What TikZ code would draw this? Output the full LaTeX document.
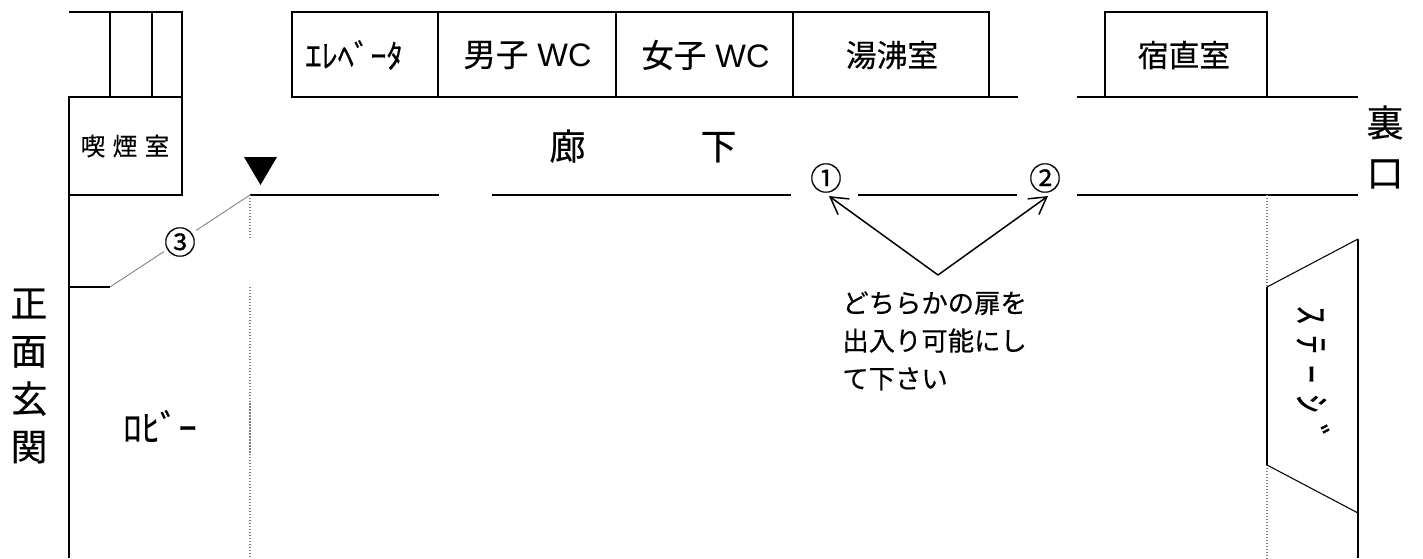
\documentclass[tikz,border=0pt]{standalone}
\usepackage{fontspec}
\setmainfont{Liberation Sans}
\newfontfamily\cjk[FakeBold=0.4]{Noto Sans CJK JP}
\newfontfamily\cjkwide[LetterSpace=30,FakeBold=0.4]{Noto Sans CJK JP}
\usetikzlibrary{arrows.meta}
\tikzset{
  wall/.style={black,line width=1.2pt},
  thinwall/.style={black,line width=0.6pt},
  dooropen/.style={gray,line width=0.5pt},
  guide/.style={gray,densely dotted,line width=0.7pt},
  pointer/.style={black,line width=0.85pt,-{Straight Barb[length=9.5pt,width=11pt]}},
  room/.style={inner sep=0pt,font=\fontsize{18.5}{21}\selectfont},
  cjkroom/.style={inner sep=0pt,font=\cjk\fontsize{17.5}{21}\selectfont},
  note/.style={inner sep=0pt,align=left,font=\cjk\fontsize{15}{21.5}\selectfont},
  tag/.style={inner sep=0pt,font=\cjk\fontsize{18}{18}\selectfont},
  upright/.style={inner sep=0pt,align=center,font=\cjk\fontsize{21}{27.2}\selectfont}
}
\begin{document}
\begin{tikzpicture}[x=0.02cm,y=-0.02cm]
\useasboundingbox (0,0) rectangle (1423,558);
% left wing
\draw[wall] (69,12) -- (182,12) -- (182,195);
\draw[wall] (110,12) -- (110,97);
\draw[wall] (152,12) -- (152,97);
\draw[wall] (69,97) rectangle (182,195);
\draw[wall] (69,97) -- (69,558);
\draw[wall] (69,287) -- (110,287);
\draw[dooropen] (110,287) -- (250,195);
% top rooms
\draw[wall] (292,12) rectangle (989,97);
\draw[wall] (438,12) -- (438,97);
\draw[wall] (616,12) -- (616,97);
\draw[wall] (793,12) -- (793,97);
\draw[wall] (989,97) -- (1018,97);
\draw[wall] (1077,97) -- (1358,97);
\draw[wall] (1105,97) -- (1105,12) -- (1267,12) -- (1267,97);
% corridor
\draw[wall] (250,195) -- (439,195);
\draw[wall] (492,195) -- (791,195);
\draw[wall] (858,195) -- (1017,195);
\draw[wall] (1077,195) -- (1358,195);
\draw[guide] (250,195) -- (250,238);
\draw[guide] (250,287) -- (250,558);
\draw[guide] (1267,195) -- (1267,287);
\draw[guide] (1267,465) -- (1267,558);
\fill[black] (244,157) -- (277,157) -- (260.5,185) -- cycle;
% stage
\draw[wall] (1267,287) -- (1267,465);
\draw[wall] (1358,239) -- (1358,558);
\draw[thinwall] (1267,287) -- (1358,239);
\draw[thinwall] (1267,465) -- (1358,513);
% labels
\node[inner sep=0pt,font=\cjk\fontsize{18.5}{21}\selectfont] (elevator) at (354,55) {ｴﾚﾍﾞｰﾀ};
\node[room] (menwc) at (527.5,55) {{\cjk 男子} WC};
\node[room] (womenwc) at (705.5,55) {{\cjk 女子} WC};
\node[cjkroom] (kitchen) at (892,55) {湯沸室};
\node[cjkroom] (night) at (1184,55) {宿直室};
\node[inner sep=0pt,font=\cjkwide\fontsize{14}{14}\selectfont] (smoking) at (125,146) {喫煙室};
\node[cjkroom,font=\cjk\fontsize{20.5}{21}\selectfont] (hall) at (643,146) {廊\hspace{65.5pt}下};
\node[upright] (front) at (29,376) {正\\面\\玄\\関};
\node[upright,font=\cjk\fontsize{21}{28.5}\selectfont] (back) at (1385,147) {裏\\口};
\node[inner sep=0pt,font=\cjk\fontsize{21}{21}\selectfont] (lobby) at (160,426) {ﾛﾋﾞｰ};
\node[inner sep=0pt,rotate=-90,font=\cjkwide\fontsize{21}{21}\selectfont] (stage) at (1313,374) {ｽﾃｰｼﾞ};
\node[tag] (door1) at (826,178) {①};
\node[tag] (door2) at (1045,178) {②};
\node[tag,fill=white] (door3) at (180,242) {③};
\node[note,anchor=north west] (notice) at (842,291) {どちらかの扉を\\出入り可能にし\\て下さい};
\coordinate (fork) at (938,275);
\draw[pointer] (fork) -- ([shift={(3,3)}]door1.south);
\draw[pointer] (fork) -- ([shift={(3,3)}]door2.south);
\end{tikzpicture}
\end{document}
